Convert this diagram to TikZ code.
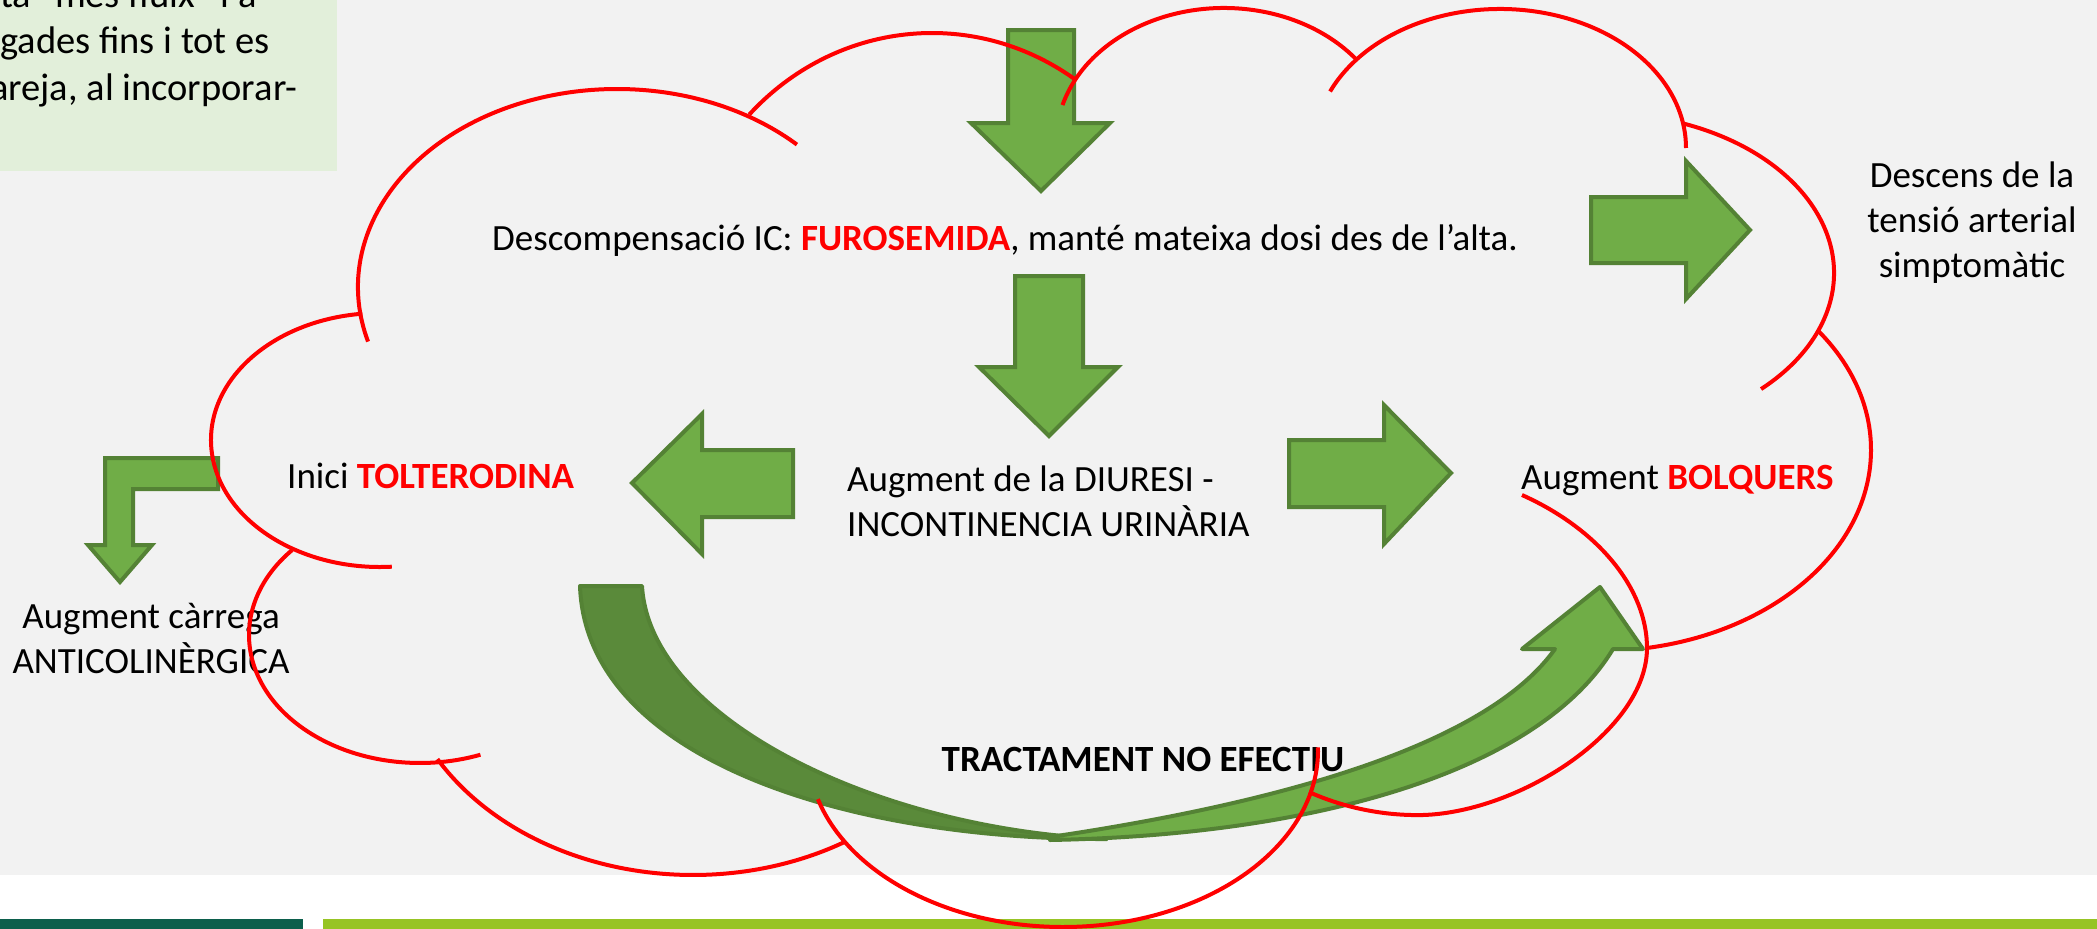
\documentclass[tikz,border=0pt]{standalone}
\usepackage{fontspec}
\setmainfont{Carlito}
\definecolor{bggray}{HTML}{F2F2F2}
\definecolor{boxgreen}{HTML}{E2EFDA}
\definecolor{bardark}{HTML}{0C5F4C}
\definecolor{barlight}{HTML}{97C424}
\definecolor{arrowgreen}{HTML}{70AD47}
\definecolor{arrowedge}{HTML}{548235}
\definecolor{curvedark}{HTML}{5A8A3A}
\definecolor{cloudred}{HTML}{FF0000}
\newcommand\lblfont{\fontsize{37}{45}\selectfont}
\newcommand\redarc[6]{\draw[cloudarc] (#1,#2) ++(#5:#3 and #4) arc[start angle=#5, end angle=#6, x radius=#3, y radius=#4];}
\tikzset{
  garrow/.style={fill=arrowgreen, draw=arrowedge, line width=4pt, line join=miter},
  gdark/.style={fill=curvedark, draw=arrowedge, line width=4pt, line join=round},
  cloudarc/.style={draw=cloudred, line width=4pt},
  lbl/.style={inner sep=0pt, font=\lblfont},
  boxtxt/.style={inner sep=0pt, font=\fontsize{38.5}{47}\selectfont},
}
\begin{document}
\begin{tikzpicture}[x=1pt,y=-1pt]
\useasboundingbox (0,0) rectangle (2097,929);
% background
\fill[white] (0,0) rectangle (2097,929);
\fill[bggray] (0,0) rectangle (2097,875);
\fill[bardark] (0,919) rectangle (303,929);
\fill[barlight] (323,919) rectangle (2097,929);
% text box top-left (clipped at the picture edge)
\fill[boxgreen] (0,0) rectangle (337,171);
\begin{scope}
\clip (0,0) rectangle (337,171);
\node[boxtxt, anchor=base west] (bx1) at (0,7) {ta "més fluix" i a};
\node[boxtxt, anchor=base west] (bx2) at (0,53) {gades fins i tot es};
\node[boxtxt, anchor=base west] (bx3) at (-10,100) {areja, al incorporar-};
\end{scope}

% block arrows
\filldraw[garrow] (1008,30) -- (1074,30) -- (1074,123) -- (1110,123) -- (1041,191) -- (971,123) -- (1008,123) -- cycle;
\filldraw[garrow] (1015,276) -- (1083,276) -- (1083,367) -- (1118,367) -- (1049,436) -- (979,367) -- (1015,367) -- cycle;
\filldraw[garrow] (793,450) -- (702,450) -- (702,414) -- (632,483) -- (702,554) -- (702,517) -- (793,517) -- cycle;
\filldraw[garrow] (1289,440) -- (1384,440) -- (1384,405) -- (1451,473) -- (1384,544) -- (1384,507) -- (1289,507) -- cycle;
\filldraw[garrow] (1591,197) -- (1686,197) -- (1686,161) -- (1750,230) -- (1686,299) -- (1686,263) -- (1591,263) -- cycle;
% bent arrow
\filldraw[garrow] (218,458) -- (105,458) -- (105,545) -- (88,545) -- (120,582) -- (152,545) -- (133,545) -- (133,489) -- (218,489) -- cycle;
% curved arrow (back part, then front part with head)
\filldraw[gdark] (580,586) .. controls (586,760) and (850,840) .. (1107,839) .. controls (880,830) and (650,720) .. (642,586) -- cycle;
\filldraw[garrow, line join=round] (1050,840) .. controls (1320,835) and (1540,770) .. (1613,649) -- (1643,649) -- (1600,587) -- (1522,649) -- (1555,649) .. controls (1490,740) and (1300,800) .. (1050,837) -- cycle;

% labels
\node[lbl, anchor=base west] (furo) at (492,250) {Descompensació IC: \textcolor{cloudred}{\textbf{FUROSEMIDA}}, manté mateixa dosi des de l’alta.};
\node[lbl, anchor=base west] (tolt) at (287,488) {Inici \textcolor{cloudred}{\textbf{TOLTERODINA}}};
\node[lbl, anchor=base west, align=left] (diur) at (847,536) {Augment de la DIURESI -\\INCONTINENCIA URINÀRIA};
\node[lbl, anchor=base west] (bolq) at (1521,489) {Augment \textcolor{cloudred}{\textbf{BOLQUERS}}};
\node[lbl, anchor=base, align=center] (tens) at (1972,277) {Descens de la\\tensió arterial\\simptomàtic};
\node[lbl, anchor=base, align=center] (anti) at (151,673) {Augment càrrega\\ANTICOLINÈRGICA};
\node[lbl, anchor=base, font=\lblfont\bfseries] (noef) at (1143,771) {TRACTAMENT NO EFECTIU};

% cloud arcs
\redarc{617}{287}{259}{198}{164}{314}
\redarc{932}{300}{254}{267}{224}{304}
\redarc{1224}{142}{168}{134}{196}{322}
\redarc{1500}{148}{186}{139}{204}{360}
\redarc{1600}{273}{234}{160}{-69.3}{46.5}
\redarc{1600}{450}{271}{201}{-36.4}{80}
\draw[cloudarc] (1522,495) .. controls (1600,530) and (1647,590) .. (1647,648)
  .. controls (1647,730) and (1520,812) .. (1423,815)
  .. controls (1380,816) and (1340,806) .. (1309,792);
\redarc{1063}{750.5}{255}{176.5}{-1}{164}
\redarc{693}{641}{296}{234}{59.4}{149.7}
\redarc{420}{635}{171}{128}{221.6}{69.3}
\redarc{380}{440}{169}{127}{264}{86}
\end{tikzpicture}
\end{document}
